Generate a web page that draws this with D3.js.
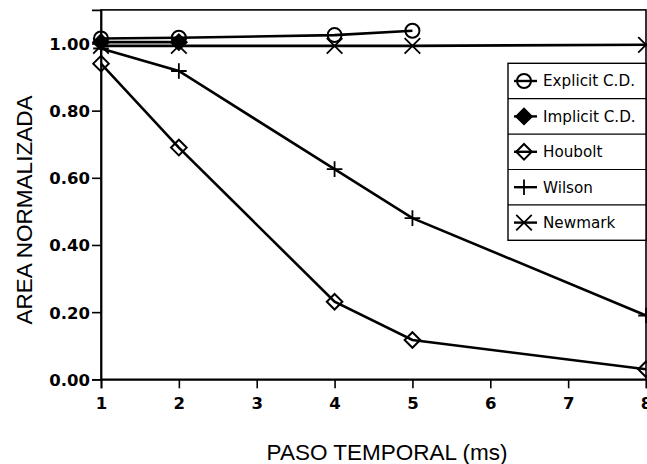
<!DOCTYPE html>
<html>
<head>
<meta charset="utf-8">
<script src="https://cdn.jsdelivr.net/npm/d3@7"></script>
<style>
  html, body { margin: 0; padding: 0; background: #fff; }
  svg { display: block; }
  .tick-label { font-family: "DejaVu Sans", sans-serif; font-weight: bold; font-size: 16.5px; }
  .axis-title { font-family: "Liberation Sans", Arial, sans-serif; font-size: 22.5px; }
  .legend-label { font-family: "DejaVu Sans", sans-serif; font-size: 15.2px; }
</style>
</head>
<body>
<div id="chart"></div>
<script>
    // data
    var explicitX = [1, 2, 4, 5];
    var explicitY = [1.015, 1.017, 1.025, 1.038];

    var implicitX = [1, 2];
    var implicitY = [1.004, 1.004];

    var houboltX = [1, 2, 4, 5, 8];
    var houboltY = [0.94, 0.69, 0.231, 0.117, 0.03];

    var wilsonX = [1, 2, 4, 5, 8];
    var wilsonY = [0.985, 0.918, 0.626, 0.48, 0.19];

    var newmarkX = [1, 2, 4, 5, 8];
    var newmarkY = [0.993, 0.993, 0.993, 0.993, 0.996];

    var seriesNames = ['Explicit C.D.', 'Implicit C.D.', 'Houbolt', 'Wilson', 'Newmark'];
    var seriesKinds = ['circle', 'diamondFilled', 'diamond', 'plus', 'cross'];

    var xTicks = [1, 2, 3, 4, 5, 6, 7, 8];
    var yTicks = [0, 0.2, 0.4, 0.6, 0.8, 1.0];

(function() {
    'use strict';

    var width = 647, height = 464;
    var margin = {left: 101, right: 646, top: 9.9, bottom: 379.3};

    var svg = d3.select('#chart').append('svg')
        .attr('width', width)
        .attr('height', height);

    svg.append('rect').attr('width', width).attr('height', height).attr('fill', '#fff');

    var x = d3.scaleLinear().domain([1, 8]).range([margin.left, margin.right]);
    var y = d3.scaleLinear().domain([0, 1.1]).range([margin.bottom, margin.top]);

    // frame
    svg.append('rect')
        .attr('x', margin.left).attr('y', margin.top)
        .attr('width', margin.right - margin.left).attr('height', margin.bottom - margin.top)
        .attr('fill', 'none').attr('stroke', '#000').attr('stroke-width', 1.6);

    // y axis
    var yAxis = svg.append('g')
        .attr('transform', 'translate(' + margin.left + ',0)')
        .call(d3.axisLeft(y).tickValues(yTicks).tickSize(9).tickPadding(2).tickFormat(d3.format('.2f')));
    yAxis.select('.domain').attr('stroke-width', 1.8);
    yAxis.selectAll('.tick line').attr('stroke-width', 1.6);
    yAxis.selectAll('.tick text').attr('class', 'tick-label').attr('fill', '#000').attr('dy', '0.36em');

    // x axis
    var xAxis = svg.append('g')
        .attr('transform', 'translate(0,' + margin.bottom + ')')
        .call(d3.axisBottom(x).tickValues(xTicks).tickSize(9).tickPadding(9).tickFormat(d3.format('d')));
    xAxis.select('.domain').attr('stroke-width', 1.8);
    xAxis.selectAll('.tick line').attr('stroke-width', 1.6);
    xAxis.selectAll('.tick text').attr('class', 'tick-label').attr('fill', '#000');

    // axis titles
    svg.append('text')
        .attr('class', 'axis-title')
        .attr('transform', 'translate(32,210)rotate(-90)')
        .attr('text-anchor', 'middle')
        .text('AREA NORMALIZADA');

    svg.append('text')
        .attr('class', 'axis-title')
        .attr('x', 387).attr('y', 460)
        .attr('text-anchor', 'middle')
        .text('PASO TEMPORAL (ms)');

    // marker shapes, drawn around 0,0
    function drawMarker(g, kind) {
        var s = 7.8;
        if (kind === 'circle') {
            g.append('circle').attr('r', 7)
                .attr('fill', 'none').attr('stroke', '#000').attr('stroke-width', 2);
        } else if (kind === 'diamond' || kind === 'diamondFilled') {
            g.append('path')
                .attr('d', 'M0,' + (-s) + 'L' + s + ',0L0,' + s + 'L' + (-s) + ',0Z')
                .attr('fill', kind === 'diamondFilled' ? '#000' : 'none')
                .attr('stroke', '#000').attr('stroke-width', 2);
        } else if (kind === 'plus') {
            g.append('path')
                .attr('d', 'M' + (-s) + ',0H' + s + 'M0,' + (-s) + 'V' + s)
                .attr('stroke', '#000').attr('stroke-width', 1.8);
        } else if (kind === 'cross') {
            g.append('path')
                .attr('d', 'M' + (-s) + ',' + (-s) + 'L' + s + ',' + s + 'M' + (-s) + ',' + s + 'L' + s + ',' + (-s))
                .attr('stroke', '#000').attr('stroke-width', 1.8);
        }
    }

    var allSeries = [
        {xs: explicitX, ys: explicitY},
        {xs: implicitX, ys: implicitY},
        {xs: houboltX, ys: houboltY},
        {xs: wilsonX, ys: wilsonY},
        {xs: newmarkX, ys: newmarkY}
    ];

    var line = d3.line()
        .x(function(d) { return x(d[0]); })
        .y(function(d) { return y(d[1]); });

    // draw Newmark first so the others sit on top
    [4, 3, 2, 1, 0].forEach(function(i) {
        var s = allSeries[i];
        var pts = s.xs.map(function(v, j) { return [v, s.ys[j]]; });
        svg.append('path')
            .datum(pts)
            .attr('d', line)
            .attr('fill', 'none')
            .attr('stroke', '#000')
            .attr('stroke-width', 2.6);
        pts.forEach(function(p) {
            var g = svg.append('g').attr('transform', 'translate(' + x(p[0]) + ',' + y(p[1]) + ')');
            drawMarker(g, seriesKinds[i]);
        });
    });

    // legend
    var legX = 508, legY = 63.3, rowH = 35.4;
    var legend = svg.append('g');
    legend.append('rect')
        .attr('x', legX).attr('y', legY)
        .attr('width', margin.right - legX).attr('height', rowH * seriesNames.length)
        .attr('fill', '#fff').attr('stroke', '#000').attr('stroke-width', 1.4);

    seriesNames.forEach(function(name, i) {
        var cy = legY + rowH * i + rowH / 2;
        if (i > 0) {
            legend.append('line')
                .attr('x1', legX).attr('x2', margin.right)
                .attr('y1', legY + rowH * i).attr('y2', legY + rowH * i)
                .attr('stroke', '#000').attr('stroke-width', 1.2);
        }
        legend.append('line')
            .attr('x1', legX + 6).attr('x2', legX + 29)
            .attr('y1', cy).attr('y2', cy)
            .attr('stroke', '#000').attr('stroke-width', 2.4);
        var g = legend.append('g').attr('transform', 'translate(' + (legX + 16) + ',' + cy + ')');
        drawMarker(g, seriesKinds[i]);
        legend.append('text')
            .attr('class', 'legend-label')
            .attr('x', legX + 35).attr('y', cy)
            .attr('dy', '0.36em')
            .text(name);
    });
})();
</script>
</body>
</html>
